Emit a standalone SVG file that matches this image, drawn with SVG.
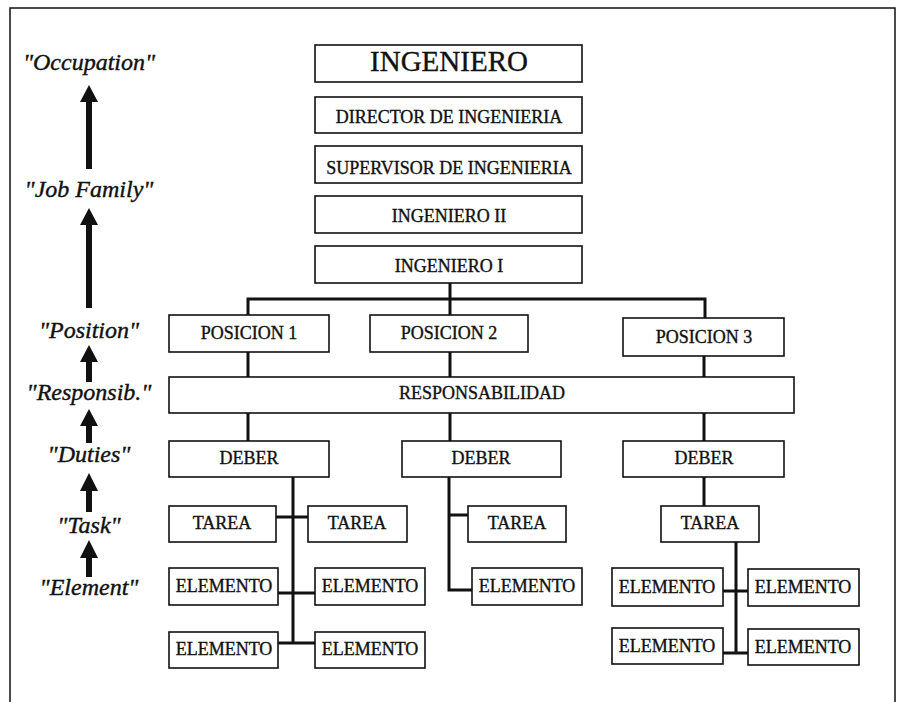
<svg xmlns="http://www.w3.org/2000/svg" width="898" height="702" viewBox="0 0 898 702">
<style>
.box{fill:#fff;stroke:#111;stroke-width:1.6}
.t{font-family:"Liberation Serif","Times New Roman",serif;font-size:18px;fill:#111;stroke:#111;stroke-width:0.35;text-anchor:middle}
.big{font-size:29px}
.lbl{font-family:"Liberation Serif","Times New Roman",serif;font-size:24px;font-style:italic;fill:#111;stroke:#111;stroke-width:0.4;text-anchor:middle}
.c{stroke:#111;stroke-width:3;fill:none}
.arr{fill:#111}
.frame{fill:none;stroke:#111;stroke-width:1.5}
</style>
<rect width="898" height="702" fill="#fff"/>
<path class="frame" d="M10,702 V8 H895 V702"/>
<g id="levels">
<text class="lbl" x="89" y="70">"Occupation"</text>
<text class="lbl" x="89" y="197">"Job Family"</text>
<text class="lbl" x="89" y="338">"Position"</text>
<text class="lbl" x="89" y="400">"Responsib."</text>
<text class="lbl" x="89" y="462">"Duties"</text>
<text class="lbl" x="89" y="533">"Task"</text>
<text class="lbl" x="89" y="595">"Element"</text>
<path class="arr" d="M89,85 L98,102 L92,102 L92,169 L86,169 L86,102 L80,102 Z"/>
<path class="arr" d="M89,208 L98,225 L92,225 L92,308 L86,308 L86,225 L80,225 Z"/>
<path class="arr" d="M89,345 L98,362 L92,362 L92,382 L86,382 L86,362 L80,362 Z"/>
<path class="arr" d="M89,409 L98,426 L92,426 L92,443 L86,443 L86,426 L80,426 Z"/>
<path class="arr" d="M89,473 L98,491 L92,491 L92,512 L86,512 L86,491 L80,491 Z"/>
<path class="arr" d="M89,540 L98,558 L92,558 L92,577 L86,577 L86,558 L80,558 Z"/>
</g>
<g id="connectors">
<path class="c" d="M450,283 V315"/>
<path class="c" d="M248,315 V299 H705 V318"/>
<path class="c" d="M248,352 V377 M450,352 V377 M704,356 V377"/>
<path class="c" d="M248,413 V441 M450,413 V441 M704,413 V441"/>
<path class="c" d="M293,477 V643 M276,517 H308 M278,593 H315 M278,643 H315"/>
<path class="c" d="M449,477 V590 H472 M449,515 H468"/>
<path class="c" d="M704,477 V506 M736,542 V653 M723,591 H748 M723,653 H748"/>
</g>
<g id="ingeniero"><rect class="box" x="315" y="45" width="267" height="37"/><text class="t big" x="449" y="71">INGENIERO</text></g>
<g id="director"><rect class="box" x="315" y="97" width="267" height="36"/><text class="t" x="449" y="123">DIRECTOR DE INGENIERIA</text></g>
<g id="supervisor"><rect class="box" x="315" y="146" width="267" height="37"/><text class="t" x="449" y="174">SUPERVISOR DE INGENIERIA</text></g>
<g id="ingeniero2"><rect class="box" x="315" y="196" width="267" height="37"/><text class="t" x="449" y="222">INGENIERO II</text></g>
<g id="ingeniero1"><rect class="box" x="315" y="246" width="267" height="37"/><text class="t" x="449" y="272">INGENIERO I</text></g>
<g id="posicion1"><rect class="box" x="169" y="315" width="160" height="37"/><text class="t" x="249" y="339">POSICION 1</text></g>
<g id="posicion2"><rect class="box" x="370" y="315" width="158" height="37"/><text class="t" x="449" y="339">POSICION 2</text></g>
<g id="posicion3"><rect class="box" x="623" y="318" width="161" height="38"/><text class="t" x="704" y="343">POSICION 3</text></g>
<g id="responsabilidad"><rect class="box" x="169" y="377" width="625" height="36"/><text class="t" x="482" y="399">RESPONSABILIDAD</text></g>
<g id="deber1"><rect class="box" x="169" y="441" width="160" height="36"/><text class="t" x="249" y="464">DEBER</text></g>
<g id="deber2"><rect class="box" x="402" y="441" width="159" height="36"/><text class="t" x="481" y="464">DEBER</text></g>
<g id="deber3"><rect class="box" x="623" y="441" width="161" height="36"/><text class="t" x="704" y="464">DEBER</text></g>
<g id="tarea1"><rect class="box" x="169" y="506" width="107" height="36"/><text class="t" x="222" y="529">TAREA</text></g>
<g id="tarea2"><rect class="box" x="308" y="506" width="99" height="36"/><text class="t" x="357" y="529">TAREA</text></g>
<g id="tarea3"><rect class="box" x="468" y="506" width="98" height="36"/><text class="t" x="517" y="529">TAREA</text></g>
<g id="tarea4"><rect class="box" x="661" y="506" width="98" height="36"/><text class="t" x="710" y="529">TAREA</text></g>
<g id="elemento1"><rect class="box" x="169" y="568" width="109" height="37"/><text class="t" x="224" y="592">ELEMENTO</text></g>
<g id="elemento2"><rect class="box" x="315" y="568" width="110" height="37"/><text class="t" x="370" y="592">ELEMENTO</text></g>
<g id="elemento3"><rect class="box" x="169" y="632" width="109" height="36"/><text class="t" x="224" y="655">ELEMENTO</text></g>
<g id="elemento4"><rect class="box" x="315" y="632" width="110" height="36"/><text class="t" x="370" y="655">ELEMENTO</text></g>
<g id="elemento5"><rect class="box" x="472" y="568" width="110" height="37"/><text class="t" x="527" y="592">ELEMENTO</text></g>
<g id="elemento6"><rect class="box" x="612" y="568" width="111" height="38"/><text class="t" x="667" y="593">ELEMENTO</text></g>
<g id="elemento7"><rect class="box" x="748" y="569" width="111" height="37"/><text class="t" x="803" y="593">ELEMENTO</text></g>
<g id="elemento8"><rect class="box" x="612" y="628" width="111" height="36"/><text class="t" x="667" y="652">ELEMENTO</text></g>
<g id="elemento9"><rect class="box" x="748" y="629" width="111" height="36"/><text class="t" x="803" y="653">ELEMENTO</text></g>
</svg>
